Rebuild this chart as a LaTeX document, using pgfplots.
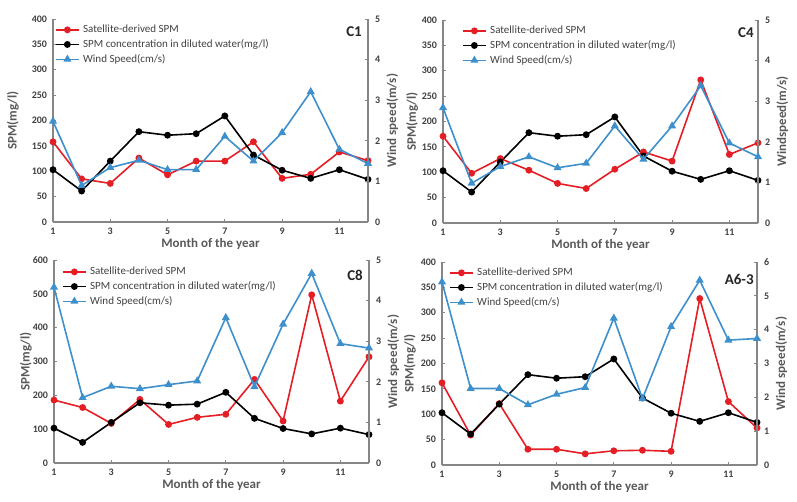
\documentclass[border=0pt]{standalone}
\usepackage{fontspec}
\setmainfont{Carlito}
\usepackage{pgfplots}
\pgfplotsset{compat=1.18}
\usepackage{pgfplotstable}

\definecolor{satred}{RGB}{228,30,36}
\definecolor{windblue}{RGB}{62,144,204}
\definecolor{axisgray}{RGB}{134,134,134}
\definecolor{tickgray}{RGB}{64,64,64}
\definecolor{labgray}{RGB}{89,89,89}

\newcommand\tickfont{\fontsize{10}{12}\selectfont\bfseries}
\newcommand\labfont{\fontsize{13}{15}\selectfont\bfseries}
\newcommand\legfont{\fontsize{11}{13}\selectfont}

% month, satellite SPM, SPM in diluted water, wind speed (m/s)
\pgfplotstableread{
month sat dil wind
1 158 103 2.48
2 85 61 0.90
3 76 120 1.34
4 126 178 1.52
5 93 171 1.29
6 120 174 1.29
7 120 209 2.11
8 158 132 1.50
9 86 102 2.20
10 94 86 3.21
11 138 103 1.79
12 121 84 1.44
}\tabCone
\pgfplotstableread{
month sat dil wind
1 171 103 2.84
2 98 61 0.98
3 127 120 1.39
4 104 178 1.63
5 78 171 1.36
6 68 174 1.47
7 106 209 2.39
8 140 132 1.57
9 122 102 2.39
10 282 86 3.38
11 135 103 1.97
12 158 84 1.63
}\tabCfour
\pgfplotstableread{
month sat dil wind
1 186 103 4.33
2 164 61 1.61
3 117 120 1.89
4 188 178 1.83
5 114 171 1.93
6 135 174 2.02
7 144 209 3.58
8 247 132 1.88
9 124 102 3.42
10 497 86 4.67
11 183 103 2.94
12 314 84 2.83
}\tabCeight
\pgfplotstableread{
month sat dil wind
1 162 103 5.41
2 59 61 2.26
3 121 120 2.26
4 31 178 1.78
5 31 171 2.09
6 22 174 2.29
7 28 209 4.34
8 29 132 1.96
9 27 102 4.09
10 328 86 5.46
11 125 103 3.69
12 73 84 3.74
}\tabAsix

\tikzset{tag/.style={font=\fontsize{15}{17}\selectfont\bfseries, text=black!85, inner sep=0pt, anchor=base east}}

\pgfplotsset{
  panel/.style={
    scale only axis, width=315pt, height=203pt,
    xmin=1, xmax=12, xtick={1,3,5,7,9,11}, ymin=0,
    tick align=inside, major tick length=3pt,
    axis line style={axisgray, line width=1.2pt},
    tick style={axisgray, line width=0.9pt},
    clip=false,
  },
  leftax/.style={
    panel, axis y line*=left, axis x line*=bottom,
    xlabel={Month of the year}, ylabel={SPM(mg/l)},
    every axis x label/.style={at={(axis description cs:0.5,0)}, anchor=base, yshift=-25pt, font=\labfont, text=labgray},
    every axis y label/.style={at={(axis description cs:#1,0.5)}, rotate=90, anchor=center, font=\labfont, text=labgray},
    xticklabel style={font=\tickfont, text=tickgray, yshift=-2pt},
    yticklabel style={font=\tickfont, text=tickgray, xshift=-2.5pt},
    /pgf/number format/assume math mode=true,
  },
  rightax/.style 2 args={
    panel, axis y line*=right, axis x line=none,
    every axis y label/.style={at={(axis description cs:1.077,0.5)}, rotate=90, anchor=center, font=\labfont, text=labgray},
    yticklabel style={font=\tickfont, text=tickgray, xshift=3.5pt},
    legend cell align=left,
    legend style={at={(rel axis cs:#1,#2)}, anchor=north west, draw=none, fill=none,
      inner sep=0pt, row sep=3.3pt, column sep=2.5pt, font=\legfont, text=tickgray,
      nodes={inner sep=1pt}, cells={anchor=west}},
    legend image code/.code={\draw[mark repeat=2,mark phase=2,##1] plot coordinates {(0pt,0pt) (11.5pt,0pt) (23pt,0pt)};},
    /pgf/number format/assume math mode=true,
  },
  sat/.style={color=satred, line width=1.6pt, mark=*, mark size=2.6pt, mark options={solid}},
  dil/.style={color=black, line width=1.6pt, mark=*, mark size=2.6pt, mark options={solid}},
  wind/.style={color=windblue, line width=1.6pt, mark=triangle*, mark size=3.1pt, mark options={solid}},
}

\begin{document}
\begin{tikzpicture}
\path[use as bounding box] (0,0) rectangle (797pt,501pt);

% C1
\begin{axis}[leftax=-0.127, at={(53pt,279pt)}, anchor=south west, ymax=400, ytick={0,50,...,400}]
\addplot[sat] table[x=month, y=sat] {\tabCone};
\addplot[dil] table[x=month, y=dil] {\tabCone};
\end{axis}
\begin{axis}[rightax={0.006}{0.975}, at={(53pt,279pt)}, anchor=south west, ymax=5, ytick={0,1,...,5}, ylabel={Wind speed(m/s)}]
\addlegendimage{sat}
\addlegendentry{Satellite-derived SPM}
\addlegendimage{dil}
\addlegendentry{SPM concentration in diluted water(mg/l)}
\addplot[wind] table[x=month, y=wind] {\tabCone};
\addlegendentry{Wind Speed(cm/s)}
\node[tag] at (rel axis cs:0.981,0.915) {C1};
\end{axis}

% C4
\begin{axis}[leftax=-0.098, at={(443pt,278pt)}, anchor=south west, ymax=400, ytick={0,50,...,400}]
\addplot[sat] table[x=month, y=sat] {\tabCfour};
\addplot[dil] table[x=month, y=dil] {\tabCfour};
\end{axis}
\begin{axis}[rightax={0.06}{0.975}, at={(443pt,278pt)}, anchor=south west, ymax=5, ytick={0,1,...,5}, ylabel={Windspeed(m/s)}]
\addlegendimage{sat}
\addlegendentry{Satellite-derived SPM}
\addlegendimage{dil}
\addlegendentry{SPM concentration in diluted water(mg/l)}
\addplot[wind] table[x=month, y=wind] {\tabCfour};
\addlegendentry{Wind Speed(cm/s)}
\node[tag] at (rel axis cs:0.987,0.912) {C4};
\end{axis}

% C8
\begin{axis}[leftax=-0.089, at={(54pt,38pt)}, anchor=south west, ymax=600, ytick={0,100,...,600}]
\addplot[sat] table[x=month, y=sat] {\tabCeight};
\addplot[dil] table[x=month, y=dil] {\tabCeight};
\end{axis}
\begin{axis}[rightax={0.025}{0.97}, at={(54pt,38pt)}, anchor=south west, ymax=5, ytick={0,1,...,5}, ylabel={Wind speed(m/s)}]
\addlegendimage{sat}
\addlegendentry{Satellite-derived SPM}
\addlegendimage{dil}
\addlegendentry{SPM concentration in diluted water(mg/l)}
\addplot[wind] table[x=month, y=wind] {\tabCeight};
\addlegendentry{Wind Speed(cm/s)}
\node[tag] at (rel axis cs:0.981,0.90) {C8};
\end{axis}

% A6-3
\begin{axis}[leftax=-0.102, at={(442pt,36pt)}, anchor=south west, ymax=400, ytick={0,50,...,400}]
\addplot[sat] table[x=month, y=sat] {\tabAsix};
\addplot[dil] table[x=month, y=dil] {\tabAsix};
\end{axis}
\begin{axis}[rightax={0.022}{0.975}, at={(442pt,36pt)}, anchor=south west, ymax=6, ytick={0,1,...,6}, ylabel={Wind speed(m/s)}]
\addlegendimage{sat}
\addlegendentry{Satellite-derived SPM}
\addlegendimage{dil}
\addlegendentry{SPM concentration in diluted water(mg/l)}
\addplot[wind] table[x=month, y=wind] {\tabAsix};
\addlegendentry{Wind Speed(cm/s)}
\node[tag] at (rel axis cs:0.99,0.89) {A6-3};
\end{axis}
\end{tikzpicture}
\end{document}
